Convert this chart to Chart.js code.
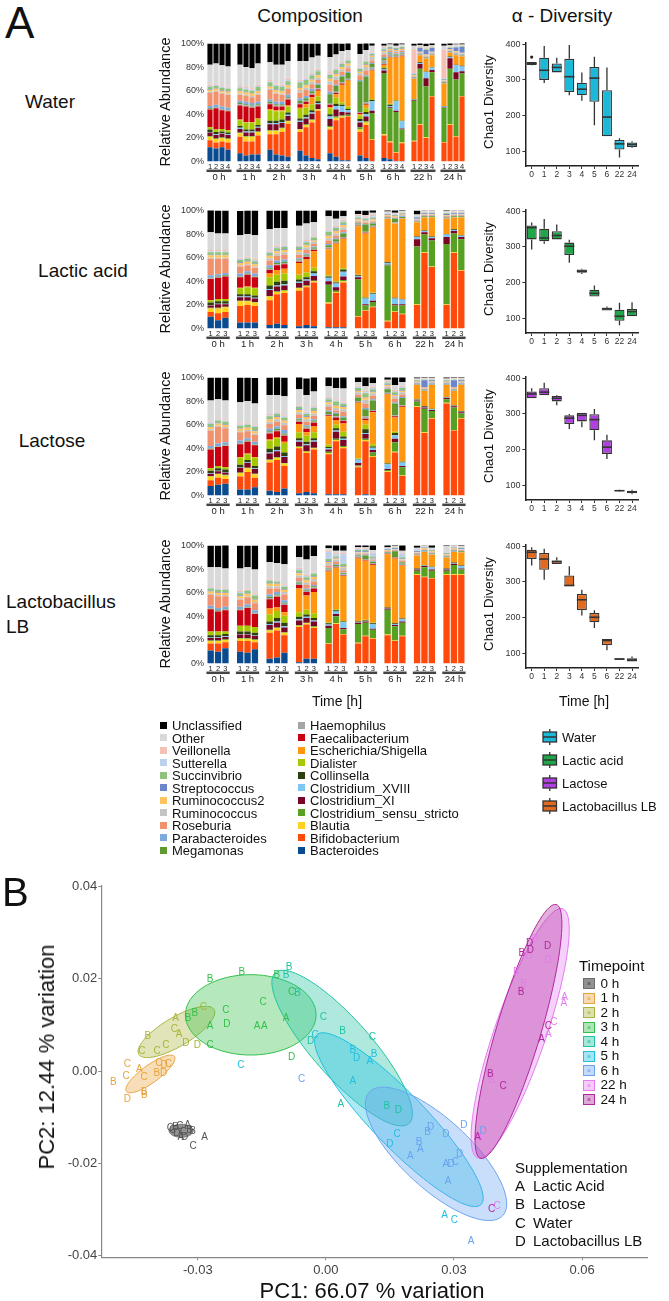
<!DOCTYPE html>
<html>
<head>
<meta charset="utf-8">
<script src="https://cdn.jsdelivr.net/npm/chart.js@4.4.1/dist/chart.umd.min.js"></script>
<style>
body { margin:0; width:669px; height:1301px; position:relative; background:#fff; overflow:hidden;
       font-family:"Liberation Sans", Arial, sans-serif; color:#111; }
canvas { position:absolute; }
.t { position:absolute; white-space:nowrap; line-height:1; }
.c { transform:translate(-50%,-50%); }
.l { transform:translateY(-50%); }
.v { transform:translate(-50%,-50%) rotate(-90deg); }
.sq { position:absolute; width:7px; height:7px; }
</style>
</head>
<body>

<canvas id="compWater" width="320" height="157" style="left:150px;top:35px"></canvas>
<canvas id="compLactic" width="320" height="157" style="left:150px;top:201.5px"></canvas>
<canvas id="compLactose" width="320" height="157" style="left:150px;top:369px"></canvas>
<canvas id="compLb" width="320" height="157" style="left:150px;top:537px"></canvas>

<canvas id="boxWater" width="199" height="147" style="left:470px;top:35px"></canvas>
<canvas id="boxLactic" width="199" height="147" style="left:470px;top:202px"></canvas>
<canvas id="boxLactose" width="199" height="147" style="left:470px;top:369px"></canvas>
<canvas id="boxLb" width="199" height="147" style="left:470px;top:537px"></canvas>

<canvas id="pca" width="669" height="404" style="left:0;top:876px"></canvas>

<!-- panel A text -->
<div class="t l" style="left:5px;top:23px;font-size:44px">A</div>
<div class="t c" style="left:310px;top:15px;font-size:19px">Composition</div>
<div class="t c" style="left:562px;top:15px;font-size:19px">α - Diversity</div>

<div class="t c" style="left:50px;top:101px;font-size:19px">Water</div>
<div class="t c" style="left:83px;top:270px;font-size:19px">Lactic acid</div>
<div class="t c" style="left:52px;top:440px;font-size:19px">Lactose</div>
<div class="t l" style="left:6px;top:601px;font-size:19px">Lactobacillus</div>
<div class="t l" style="left:6px;top:626px;font-size:19px">LB</div>

<div class="t v" style="left:165px;top:102px;font-size:14.5px">Relative Abundance</div>
<div class="t v" style="left:165px;top:268.5px;font-size:14.5px">Relative Abundance</div>
<div class="t v" style="left:165px;top:436px;font-size:14.5px">Relative Abundance</div>
<div class="t v" style="left:165px;top:604px;font-size:14.5px">Relative Abundance</div>

<div class="t v" style="left:489px;top:102px;font-size:13.3px">Chao1 Diversity</div>
<div class="t v" style="left:489px;top:269px;font-size:13.3px">Chao1 Diversity</div>
<div class="t v" style="left:489px;top:436px;font-size:13.3px">Chao1 Diversity</div>
<div class="t v" style="left:489px;top:604px;font-size:13.3px">Chao1 Diversity</div>

<div class="t c" style="left:337px;top:701px;font-size:14px">Time [h]</div>
<div class="t c" style="left:584px;top:701px;font-size:14px">Time [h]</div>

<div id="taxaLegend"></div>
<div id="boxLegend"></div>

<!-- panel B text -->
<div class="t l" style="left:2px;top:892px;font-size:40px">B</div>
<div class="t c" style="left:372px;top:1291px;font-size:22px">PC1: 66.07 % variation</div>
<div class="t v" style="left:47px;top:1057px;font-size:22px">PC2: 12.44 % variation</div>
<div class="t l" style="left:579px;top:965px;font-size:15px">Timepoint</div>
<div class="t l" style="left:515px;top:1167px;font-size:15px">Supplementation</div>
<div id="tpLegend"></div>
<div id="supLegend"></div>

<script>
Chart.defaults.font.family = '"Liberation Sans", Arial, sans-serif'
Chart.defaults.color = '#333'
Chart.defaults.animation = false

// ---------- composition data ----------
const taxa = ['Bacteroides', 'Bifidobacterium', 'Blautia', 'Clostridium_sensu_stricto', 'Clostridium_XI',
    'Clostridium_XVIII', 'Collinsella', 'Dialister', 'Escherichia/Shigella', 'Faecalibacterium',
    'Haemophilus', 'Megamonas', 'Parabacteroides', 'Roseburia', 'Ruminococcus', 'Ruminococcus2',
    'Streptococcus', 'Succinvibrio', 'Sutterella', 'Veillonella', 'Other', 'Unclassified']
const taxaColors = ['#0a4a8e', '#ff4a0c', '#ffd21e', '#58a022', '#7a0526',
    '#80c6f4', '#2e3f10', '#a6c800', '#ff9810', '#c8000f',
    '#a6a6a6', '#5e9a30', '#7ea9dc', '#f0926e', '#c4c4c4', '#ffc45e',
    '#6c86cc', '#8fc27a', '#bdd0ec', '#f4c2b4', '#d9d9d9', '#000000']
const timeGroups = ['0 h', '1 h', '2 h', '3 h', '4 h', '5 h', '6 h', '22 h', '24 h']
const waterGroupSizes = [4, 4, 4, 4, 4, 3, 4, 4, 4]
const tripleGroupSizes = [3, 3, 3, 3, 3, 3, 3, 3, 3]
const pctTicks = [0, 20, 40, 60, 80, 100]

// each bar: values in the order of `taxa` (percent)
const waterBars = [
    // 0 h
    [12,6,3,0.5,3,0.5,2,2,0,15,0.5,0.5,2,11,1,1.5,0.5,2,1,1,17,18],
    [11,5,3,0.5,3,0.5,2,2,0,18,0.5,0.5,2,11,1,1.5,0.5,2,1,1,17,17],
    [12,5,3,0.5,3,0.5,1.5,2,0,16,0.5,0.5,2,11,1,1.5,0.5,2,1,1,17,18.5],
    [10,6,3,0.5,3,0.5,1.5,2,0,16,0.5,0.5,2,11,1,1.5,0.5,2,1,1,17,19.5],
    // 1 h
    [7,14,3,0.5,3,1,1.5,5,0.5,12,1,1,2,5,1,2,0.5,2,1,1,18,18],
    [5,12,4,0.5,3,1,1.5,6,0.5,13,1,1,2,5,1,2,0.5,2,1,1,17,20],
    [6,11,4,0.5,3,1,1.5,6,0.5,12,1,1,2,5,1,2,0.5,2,1,1,17,21],
    [6,16,3,0.5,3,1,1.5,5,0.5,10,1,1,2,6,1,2,0.5,3,1,1,18,17],
    // 2 h
    [10,13,3,0.5,5,1,2,9,1,4,1,1,2,8,1,2,0.5,3,1,1,15,16],
    [6,17,3,0.5,5,1,2,8,1,3,1,1,2,7,1,2,0.5,3,1,1,16,18],
    [5,20,3,0.5,4,1,2,7,1,3,1,1,2,6,1,2,0.5,3,1,1,17,18],
    [4,28,2,0.5,4,1,2,5,1,5,1,1,2,5,1,2,0.5,3,1,1,15,15],
    // 3 h
    [9,16,2,0.5,6,1,2,8,1,3,1,2,2,5,2,2,0.5,4,1,1,16,15],
    [5,24,2,0.5,5,1,2,6,3,2,1,2,2,5,2,2,0.5,4,1,1,14,15],
    [3,30,2,0.5,5,1,2,5,6,2,1,2,2,4,2,2,0.5,3,1,1,13,12],
    [2,41,1,0.5,4,1,1.5,4,5,1,1,3,1,3,2,2,0.5,3,1,1,11,10.5],
    // 4 h
    [7,20,2,1,6,2,2,5,1,2,1,8,2,6,3,2,0.5,3,1,2,12,11.5],
    [4,31,2,1,6,3,2,5,3,1,1,5,1,4,3,2,0.5,3,1,1,11,10],
    [1,36,1,1,3,5,1,2,15,1,1,5,1,3,2,2,0.5,2,1,1,9,6.5],
    [1,37,0.5,1,2,2,1,2,22,0.5,1,5,1,3,2,2,0.5,2,1,1,7,6],
    // 5 h
    [5,20,2,2,4,1,2,3,1,1,1,26,1,4,2,1,0.5,2,1,1,10.5,9],
    [3,28,2,1,4,2,2,3,3,1,1,22,1,4,3,2,0.5,2,1,1,8,6],
    [0.5,18,0.5,22,2,8,1,1,24,0.5,2,3,1,2,3,1,0.5,1,1,1,5,3],
    // 6 h
    [3,19,1,52,2,1,1,1,2,0.5,3,2,1,2,2,1,0.5,1,1,1,1,2],
    [2,14,1,28,1,1,1,1,39,0.5,2,1,1,1,1,1,0.5,1,0.5,0.5,1,2],
    [0.5,7,0.5,34,1,8,0.5,0.5,36,0.5,1,1,1,1,1,1,0.5,1,0.5,0.5,1,3],
    [0.5,15,0.5,11,1,6,0.5,0.5,54,0.5,1,1,1,1,1,1,0.5,1,0.5,0.5,1,2],
    // 22 h
    [0,17,0.5,34,0.5,0.5,0.5,0,17,0,0.5,0.5,0.5,0.5,0.5,0.5,0.5,0.5,1,20,3,2],
    [0,31,0.5,47,4,1,0.5,0,6,0,0.5,0.5,0.5,0.5,0.5,0.5,3,0.5,0.5,0.5,1,2],
    [0,20,0.5,43,7,5,0.5,0,11,0,0.5,0.5,0.5,0.5,1,0.5,4,0.5,0.5,1,1,2.5],
    [0,55,0.5,20,2,2,0.5,0,10,0,0.5,0.5,0.5,0.5,0.5,0.5,3,0.5,0.5,0.5,1,2],
    // 24 h
    [0,16,0.5,29,0.5,0.5,0.5,0,19,0,0.5,0.5,0.5,0.5,0.5,0.5,0.5,0.5,0.5,24,3.5,2],
    [0,31,0.5,47,9,1,0.5,0,3,0,0.5,0.5,0.5,0.5,0.5,0.5,1,0.5,0.5,0.5,1,2],
    [0,21,0.5,48,6,6,0.5,0,8,0,0.5,0.5,0.5,0.5,1,0.5,3,0.5,0.5,0.5,1,1],
    [0,55,0.5,19,2,4,0.5,0,8,0,0.5,0.5,0.5,0.5,0.5,0.5,5,0.5,0.5,0.5,0.5,1.5]
]

const lacticBars = [
    // 0 h
    [10,4,3,0.5,2,0.5,2,2,0,18,0.5,0.5,2,14,1,2,0.5,2,1,1,15,19],
    [7,6,4,0.5,3,0.5,2,2,0,18,0.5,0.5,2,13,1,2,0.5,2,1,1,14,19.5],
    [9,5,4,0.5,2,0.5,2,2,0,19,0.5,0.5,2,12,1,2,0.5,2,1,1,14,19.5],
    // 1 h
    [5,14,4,0.5,3,0.5,2,5,0.5,9,0.5,0.5,2,6,1,2,0.5,2,1,1,19,20.5],
    [5,15,3,0.5,3,0.5,2,6,0.5,10,0.5,0.5,2,5,1,2,0.5,2,1,1,19,20],
    [5,14,3,0.5,3,0.5,2,6,0.5,9,0.5,0.5,2,5,1,2,0.5,2,1,1,20,21],
    // 2 h
    [3,21,3,0.5,5,1,3,7,3,3,1,1,2,4,2,2,0.5,2,1,1,18,16],
    [4,25,2,0.5,4,1,3,6,4,4,1,1,2,4,2,2,0.5,2,1,1,15,15],
    [3,27,2,0.5,4,1,3,6,4,4,1,1,2,4,2,2,0.5,2,1,1,14,15],
    // 3 h
    [2,30,2,0.5,4,1,2,4,10,1,1,1,1,3,2,2,0.5,2,1,1,16,13],
    [3,32,1,0.5,4,1,2,4,11,2,1,1,1,3,2,2,0.5,2,1,1,14,11],
    [2,37,1,0.5,4,2,2,3,14,1,1,1,1,2,2,1,0.5,2,1,1,11,10],
    // 4 h
    [1,20,1,15,3,3,1,1,22,0.5,1,2,1,3,2,2,0.5,3,1,1,11,6],
    [1,29,1,1,3,3,1,1,32,0.5,1,2,1,2,2,2,0.5,2,1,1,6,7],
    [1,38,1,1,3,4,2,1,25,0.5,1,3,1,2,2,2,0.5,2,1,1,3,5],
    // 5 h
    [0,10,0.5,31,2,1,0.5,0.5,41,0.5,1,1,0.5,1,1,1,0.5,1,1,1,1,3],
    [0,15,0.5,4,1,5,0.5,0.5,54,0.5,1,6,0.5,1,1,1,0.5,1,1,1,1,4],
    [0,18,0.5,4,1,6,0.5,0.5,55,0.5,1,2,0.5,1,1,1,0.5,1,1,1,2,3],
    // 6 h
    [0,6,0.5,47,0.5,1.5,0.5,0,37,0,0.5,0.5,0.5,0.5,0.5,0.5,0.5,0.5,0.5,0.5,1,2],
    [0,14,0.5,5,1,5,0.5,0,63,0,1,3,0.5,0.5,0.5,0.5,0.5,0.5,0.5,0.5,1,3],
    [0,12,0.5,7,1,4,0.5,0,68,0,0.5,1,0.5,0.5,0.5,0.5,0.5,0.5,0.5,0.5,1,2],
    // 22 h
    [0,20,0.5,49,6,2,0.5,0,12,0,0.5,0.5,0.5,0.5,0.5,0.5,1,0.5,0.5,0.5,1,3.5],
    [0,64,0.5,15,2,1,0.5,0,11,0,0.5,0.5,0.5,0.5,0.5,0.5,0.5,0.5,0.5,0.5,1,1.5],
    [0,52,0.5,22,2,1,0.5,0,16,0,0.5,0.5,0.5,0.5,0.5,0.5,0.5,0.5,0.5,0.5,1,1.5],
    // 24 h
    [0,20,0.5,51,6,2,0.5,0,13,0,0.5,0.5,0.5,0.5,0.5,0.5,1,0.5,0.5,0.5,1,2],
    [0,64,0.5,16,2,1,0.5,0,10,0,0.5,0.5,0.5,0.5,0.5,0.5,0.5,0.5,0.5,0.5,1,1.5],
    [0,49,0.5,26,2,1,0.5,0,15,0,0.5,0.5,0.5,0.5,0.5,0.5,0.5,0.5,0.5,0.5,1,1.5]
]

const lactoseBars = [
    // 0 h
    [8,5,3,0.5,2,0.5,2,2,0,16,0.5,0.5,2,13,1,2,0.5,2,1,1,18,19.5],
    [9,6,3,0.5,2,0.5,2,2,0,16,0.5,0.5,2,14,1,2,0.5,2,1,1,16,18.5],
    [10,4,3,0.5,2,0.5,2,2,0,18,0.5,0.5,2,12,1,2,0.5,2,1,1,16,19.5],
    // 1 h
    [5,11,3,0.5,4,0.5,2,6,0.5,11,0.5,0.5,2,7,1,2,0.5,2,1,1,18,21],
    [5,15,3,0.5,4,0.5,2,5,0.5,10,0.5,0.5,2,6,1,2,0.5,2,1,1,18,20],
    [7,8,3,0.5,4,0.5,2,7,0.5,10,0.5,0.5,2,6,1,2,0.5,3,1,1,18,21.5],
    // 2 h
    [4,24,2,0.5,5,1,3,7,1,5,1,1,2,4,2,2,0.5,2,1,1,16,15],
    [3,27,2,0.5,5,1,3,7,1,5,1,1,2,4,2,2,0.5,2,1,1,14,16],
    [6,19,2,0.5,5,1,3,8,1,5,1,1,3,4,2,2,0.5,2,1,1,16,16],
    // 3 h
    [2,38,1,0.5,4,1,2,5,7,2,1,1,1,3,2,2,0.5,2,1,1,13,11],
    [3,33,1,0.5,5,1,2,5,3,3,1,1,1,3,2,2,0.5,2,1,1,14,14],
    [2,37,1,0.5,5,1,2,5,5,3,1,1,1,3,2,2,0.5,2,1,1,12,13],
    // 4 h
    [1,34,1,1,2,1,1,2,24,1,1,2,1,3,2,2,0.5,2,1,1,9,8],
    [1,45,1,1,6,1,2,3,4,2,1,2,1,2,2,2,0.5,3,1,1,9.5,9],
    [1,39,1,1,5,1,2,4,7,2,1,2,1,4,2,2,0.5,2,1,1,11,10],
    // 5 h
    [0,24,0.5,1,2,3,0.5,0.5,47,0.5,1,3,0.5,2,2,1,0.5,2,1,1,3,5],
    [1,45,1,1,4,1,3,4,4,1,2,6,1,4,3,2,0.5,3,1,1,4,8],
    [0.5,32,1,3,2,2,1,2,27,1,1,8,1,3,2,1,0.5,2,1,1,3,6],
    // 6 h
    [0,20,0.5,1,1,4,0.5,0.5,58,0.5,1,3,0.5,1,1,1,0.5,1,1,1,1,3],
    [0.5,36,0.5,8,3,3,2,1,12,1,1,10,1,3,2,1,0.5,2,1,1,4,8],
    [0.5,16,0.5,7,1,3,0.5,0.5,46,0.5,1,6,1,2,2,1,0.5,2,1,1,3,5],
    // 22 h
    [0,75,0.5,4,1,0.5,0.5,0,12,0,0.5,0.5,0.5,0.5,0.5,0.5,0.5,0.5,0.5,0.5,0.5,1.5],
    [0,53,0.5,20,1,0.5,0.5,0,13,0,0.5,0.5,0.5,0.5,0.5,0.5,6,0.5,0.5,0.5,0.5,1.5],
    [0,65,0.5,6,1,0.5,0.5,0,20,0,0.5,0.5,0.5,0.5,0.5,0.5,1,0.5,0.5,0.5,0.5,1.5],
    // 24 h
    [0,78,0.5,3,1,0.5,0.5,0,10,0,0.5,0.5,0.5,0.5,0.5,0.5,0.5,0.5,0.5,0.5,0.5,1.5],
    [0,55,0.5,19,1,0.5,0.5,0,12,0,0.5,0.5,0.5,0.5,0.5,0.5,6,0.5,0.5,0.5,0.5,1.5],
    [0,65,0.5,4,1,0.5,0.5,0,22,0,0.5,0.5,0.5,0.5,0.5,0.5,1,0.5,0.5,0.5,0.5,1.5]
]

const lbBars = [
    // 0 h
    [11,6,2,0.5,2,0.5,2,3,0,19,0.5,0.5,2,9,1,2,0.5,2,1,1,16,18.5],
    [10,7,2,0.5,2,0.5,2,3,0,17,0.5,0.5,2,10,1,2,0.5,2,1,1,17,18.5],
    [13,5,2,0.5,2,0.5,2,2,0,18,0.5,0.5,2,9,1,2,0.5,2,1,1,16,20],
    // 1 h
    [10,9,2,0.5,3,0.5,2,5,0,13,0.5,0.5,2,6,1,2,0.5,2,1,1,19,19.5],
    [9,10,2,0.5,3,0.5,2,5,0,15,0.5,0.5,2,6,1,2,0.5,2,1,1,18,18.5],
    [12,6,2,0.5,3,0.5,2,5,0,11,0.5,0.5,2,6,1,2,0.5,3,1,1,20,20.5],
    // 2 h
    [4,22,2,0.5,4,1,2,6,5,8,1,1,2,5,2,2,0.5,2,1,1,14,14],
    [5,23,2,0.5,4,1,3,6,3,9,1,1,2,3,2,2,0.5,1,1,1,14,15],
    [9,15,2,0.5,4,1,3,6,3,6,1,1,2,5,2,2,0.5,2,1,1,17,16],
    // 3 h
    [1,30,1,0.5,4,1,2,4,20,3,1,1,1,3,2,2,0.5,2,1,1,9,10],
    [4,29,1,0.5,4,1,2,4,12,3,1,1,1,3,2,2,0.5,2,1,1,13,13],
    [4,26,1,0.5,4,1,2,4,18,3,1,1,1,3,2,2,0.5,2,1,1,13,10],
    // 4 h
    [0.5,16,0.5,13,2,1,1,1,43,0.5,1,1,0.5,2,2,1,0.5,2,6,1,2,3],
    [0.5,33,0.5,6,2,2,1,1,35,0.5,1,1,0.5,2,2,1,0.5,1,2,1,2,6],
    [0.5,24,0.5,4,1,5,0.5,0.5,38,0.5,1,1,0.5,2,2,1,0.5,2,8,1,2,5],
    // 5 h
    [0,17,0.5,16,1,0.5,0.5,0.5,53,0.5,1,1,0.5,1,1,0.5,0.5,1,1,0.5,1,2],
    [0,23,0.5,11,1,0.5,0.5,0.5,50,0.5,1,3,0.5,1,1,0.5,0.5,1,1,0.5,1,3],
    [0,21,0.5,7,1,4,0.5,0.5,49,0.5,1,1,0.5,1,1,0.5,0.5,1,3,0.5,2,5],
    // 6 h
    [0,24,0.5,21,1,0.5,0.5,0,45,0.5,0.5,0.5,0.5,0.5,0.5,0.5,0.5,0.5,0.5,0.5,0.5,2],
    [0,19,0.5,12,1,1,0.5,0,55,0.5,0.5,5,0.5,0.5,0.5,0.5,0.5,0.5,0.5,0.5,0.5,2],
    [0,23,0.5,11,1,2,0.5,0,45,0.5,1,1,0.5,1,1,0.5,0.5,1,3,0.5,2,5],
    // 22 h
    [0,75,0.5,3,1,0.5,0.5,0,11,0,0.5,0.5,0.5,0.5,0.5,0.5,0.5,0.5,1,0.5,1,2],
    [0,73,0.5,8,1,0.5,0.5,0,11,0,0.5,0.5,0.5,0.5,0.5,0.5,0.5,0.5,0.5,0.5,0.5,1],
    [0,72,0.5,6,1,2,0.5,0,10,0,0.5,0.5,0.5,0.5,0.5,0.5,0.5,0.5,0.5,0.5,1,2.5],
    // 24 h
    [0,75,0.5,3,1,0.5,0.5,0,9,0,0.5,0.5,0.5,0.5,0.5,0.5,0.5,0.5,0.5,0.5,5,1.5],
    [0,75,0.5,8,1,0.5,0.5,0,9,0,0.5,0.5,0.5,0.5,0.5,0.5,0.5,0.5,0.5,0.5,0.5,1],
    [0,75,0.5,4,1,2,0.5,0,11,0,0.5,0.5,0.5,0.5,0.5,0.5,0.5,0.5,0.5,0.5,0.5,2.5]
]

// ---------- alpha diversity data: [min, q1, median, q3, max] ----------
const chaoTimes = ['0', '1', '2', '3', '4', '5', '6', '22', '24']
const chaoTicks = [100, 200, 300, 400]
const waterChao = [[341,342,346,350,350],[291,300,327,362,395],[321,321,335,346,362],[257,266,309,359,398],
    [242,257,274,292,321],[173,239,305,336,365],[142,142,196,271,335],[83,105,121,132,137],[110,112,119,125,128]]
const waterChaoOutliers = [364, null, null, null, null, null, null, null, null]
const lacticChao = [[293,321,354,360,368],[309,316,325,351,378],[321,321,332,344,363],[256,277,302,312,320],
    [224,228,232,237,239],[161,161,170,180,192],[122,122,127,130,133],[81,93,106,124,144],[106,106,119,126,145]]
const lactoseChao = [[344,344,356,363,372],[352,352,361,372,387],[324,335,344,350,352],[258,272,288,296,300],
    [263,279,296,303,303],[226,254,284,299,314],[174,188,207,226,242],[83,84,85,86,88],[75,78,81,85,88]]
const lbChao = [[346,364,383,390,397],[306,334,364,381,393],[350,350,357,360,369],[288,288,290,318,344],
    [206,221,250,266,278],[171,187,201,213,221],[109,123,136,140,140],[82,82,84,86,86],[77,77,81,86,91]]
const supplements = ['Water', 'Lactic acid', 'Lactose', 'Lactobacillus LB']
const supplementColors = ['#1cb8d8', '#1fa64a', '#b040e0', '#e06a20']

// ---------- PCA data ----------
const tpNames = ['0 h', '1 h', '2 h', '3 h', '4 h', '5 h', '6 h', '22 h', '24 h']
const tpColors = ['#6e6e6e', '#e8a33d', '#a9b53a', '#34bf4c', '#22c3a2', '#1fbfe0', '#6aa3f0', '#e47cf0', '#b0289a']
const pcXTicks = [-0.03, 0, 0.03, 0.06]
const pcYTicks = [-0.04, -0.02, 0, 0.02, 0.04]
const supLetters = ['A', 'B', 'C', 'D']
const supNames = ['Lactic Acid', 'Lactose', 'Water', 'Lactobacillus LB']

const pts0h = [[-0.0364,-0.0123,'C'],[-0.0352,-0.0122,'B'],[-0.0342,-0.012,'C'],[-0.0324,-0.0116,'A'],[-0.0319,-0.0128,'B'],
    [-0.0334,-0.0132,'C'],[-0.034,-0.0143,'A'],[-0.0331,-0.0142,'D'],[-0.0349,-0.0134,'D'],[-0.0359,-0.0128,'C'],
    [-0.0312,-0.0129,'B'],[-0.0284,-0.0143,'A'],[-0.0311,-0.0163,'C']]
const pts1h = [[-0.0498,-0.0023,'B'],[-0.0465,-0.006,'D'],[-0.0465,0.0015,'C'],[-0.0468,-0.0012,'C'],[-0.0437,0.0004,'A'],
    [-0.0426,-0.0014,'C'],[-0.0426,-0.0046,'B'],[-0.0425,-0.0053,'B'],[-0.0391,0.0018,'C'],[-0.0396,-0.0004,'B'],
    [-0.038,-0.0004,'D'],[-0.0369,0.0014,'C'],[-0.0379,0.0013,'D']]
const pts2h = [[-0.0431,0.0043,'C'],[-0.0417,0.0075,'B'],[-0.0395,0.0044,'C'],[-0.0375,0.0057,'C'],[-0.0352,0.0115,'A'],
    [-0.0355,0.0091,'C'],[-0.0344,0.008,'A'],[-0.0328,0.006,'D'],[-0.0301,0.0057,'D'],[-0.0287,0.0138,'C']]
const pts3h = [[-0.0271,0.0199,'B'],[-0.0197,0.0215,'B'],[-0.0115,0.0208,'B'],[-0.0234,0.0131,'C'],[-0.0147,0.0149,'C'],
    [-0.0232,0.0102,'D'],[-0.0161,0.0098,'A'],[-0.0144,0.0097,'A'],[-0.0093,0.0115,'A'],[-0.0271,0.0056,'C'],
    [-0.0271,0.0098,'A'],[-0.0323,0.0114,'B'],[-0.0307,0.0125,'B'],[-0.008,0.0031,'D'],[-0.008,0.0171,'C']]
const pts4h = [[-0.0086,0.0224,'B'],[-0.0093,0.0207,'B'],[-0.0066,0.0169,'B'],[-0.0006,0.0116,'C'],[0.0109,0.0073,'C'],
    [0.0039,0.0087,'B'],[-0.0036,0.0065,'D'],[0.0035,-0.0072,'A'],[0.0143,-0.0075,'B'],[0.017,-0.0084,'D']]
const pts5h = [[-0.0199,0.0012,'C'],[-0.0025,0.0077,'C'],[0.0063,0.0045,'B'],[0.0072,0.0029,'D'],[0.0103,0.0022,'A'],
    [0.0113,0.0037,'B'],[0.0063,-0.0022,'A'],[0.0167,-0.0136,'C'],[0.015,-0.0159,'D'],[0.0278,-0.0313,'A'],[0.0301,-0.0323,'C']]
const pts6h = [[-0.0057,-0.0017,'C'],[0.0238,-0.0132,'B'],[0.0245,-0.0121,'D'],[0.0281,-0.0136,'D'],[0.0218,-0.0153,'B'],
    [0.0221,-0.0169,'A'],[0.0198,-0.0184,'A'],[0.0303,-0.0197,'C'],[0.0281,-0.0202,'A'],[0.0293,-0.0202,'D'],
    [0.0313,-0.0179,'D'],[0.0323,-0.0116,'D'],[0.0368,-0.0131,'D'],[0.0286,-0.0238,'A'],[0.034,-0.0369,'A']]
const pts22h = [[0.0489,0.0285,'D'],[0.0476,0.0248,'D'],[0.0519,0.0241,'D'],[0.0446,0.0214,'B'],[0.0463,0.0189,'B'],
    [0.0559,0.0161,'A'],[0.0557,0.0148,'A'],[0.0534,0.0105,'C'],[0.0388,-0.0019,'B'],[0.0401,-0.0292,'C'],
    [0.0521,0.0081,'A'],[0.036,-0.0145,'A']]
const pts24h = [[0.0477,0.0278,'D'],[0.0519,0.027,'D'],[0.0459,0.0255,'B'],[0.0479,0.0262,'D'],[0.0457,0.0171,'B'],
    [0.0521,0.0098,'C'],[0.0505,0.007,'A'],[0.0385,-0.0007,'B'],[0.0415,-0.0032,'C'],[0.0355,-0.0143,'A'],[0.0388,-0.03,'C']]
const tpPoints = [pts0h, pts1h, pts2h, pts3h, pts4h, pts5h, pts6h, pts22h, pts24h]

// confidence ellipses: centre, major and minor half-axis vectors (data units)
const ellipseCentres = [[-0.0339,-0.0129],[-0.0411,-0.0006],[-0.035,0.0085],[-0.0176,0.0122],[0.0038,0.005],
    [0.0171,-0.0105],[0.0258,-0.0179],[0.0455,0.0082],[0.0451,0.0086]]
const ellipseMajor = [[0.0028,0],[0.0055,0.0039],[0.0086,0.0051],[0.0153,0],[0.0152,-0.0166],
    [0.0189,-0.0186],[0.0149,-0.0139],[0.0098,0.027],[0.0088,0.0275]]
const ellipseMinor = [[0,0.0014],[0.0017,-0.0012],[0.0026,-0.0022],[0,0.0087],[0.0063,0.0029],
    [0.0057,0.0029],[0.0072,0.0039],[0.006,-0.0011],[0.0051,-0.001]]


function rgba(hex, a) {
    const n = parseInt(hex.slice(1), 16)
    return 'rgba(' + (n >> 16) + ',' + ((n >> 8) & 255) + ',' + (n & 255) + ',' + a + ')'
}

// start: composition charts
const groupLabels = {
    id: 'groupLabels',
    afterDraw(chart, args, opts) {
        const { ctx, chartArea, scales: { x } } = chart
        const w = x.getPixelForValue(1) - x.getPixelForValue(0)
        ctx.save()
        opts.spans.forEach(function (sp, i) {
            const l = x.getPixelForValue(sp[0]) - w * 0.58
            const r = x.getPixelForValue(sp[1]) + w * 0.58
            ctx.strokeStyle = '#444'
            ctx.lineWidth = 2.5
            ctx.beginPath()
            ctx.moveTo(l, chartArea.bottom + 9.3)
            ctx.lineTo(r, chartArea.bottom + 9.3)
            ctx.stroke()
            ctx.fillStyle = '#222'
            ctx.font = '9.5px "Liberation Sans", Arial, sans-serif'
            ctx.textAlign = 'center'
            ctx.textBaseline = 'middle'
            ctx.fillText(timeGroups[i], (l + r) / 2, chartArea.bottom + 15.6)
        })
        ctx.restore()
    }
}

function makeComposition(id, bars, sizes) {
    const labels = []
    const spans = []
    const index = []
    let b = 0
    sizes.forEach(function (n, g) {
        const start = labels.length
        for (let i = 1; i <= n; i++) {
            labels.push(String(i))
            index.push(b++)
        }
        spans.push([start, labels.length - 1])
        if (g < sizes.length - 1) {
            labels.push('')
            index.push(-1)
        }
    })
    const datasets = taxa.map(function (name, t) {
        return {
            label: name,
            data: index.map(k => k < 0 ? null : bars[k][t]),
            backgroundColor: taxaColors[t],
            borderWidth: 0,
            barPercentage: 0.86,
            categoryPercentage: 1,
            clip: 0
        }
    })
    new Chart(document.getElementById(id), {
        type: 'bar',
        data: { labels: labels, datasets: datasets },
        options: {
            responsive: false,
            events: [],
            layout: { autoPadding: false, padding: { top: 8, right: 5, left: 0, bottom: 0 } },
            plugins: { legend: { display: false }, tooltip: { enabled: false }, groupLabels: { spans: spans } },
            scales: {
                x: {
                    stacked: true,
                    grid: { display: false, drawTicks: false },
                    border: { display: false },
                    ticks: { autoSkip: false, maxRotation: 0, padding: 1, color: '#222', font: { size: 7.5 } },
                    afterFit(s) { s.height = 30.5 }
                },
                y: {
                    stacked: true, min: 0, max: 100,
                    grid: { display: false, drawTicks: false },
                    border: { display: false },
                    afterBuildTicks(s) { s.ticks = pctTicks.map(v => ({ value: v })) },
                    ticks: { padding: 3, color: '#333', font: { size: 9 }, callback: v => v + '%' },
                    afterFit(s) { s.width = 57 }
                }
            }
        },
        plugins: [groupLabels]
    })
}

makeComposition('compWater', waterBars, waterGroupSizes)
makeComposition('compLactic', lacticBars, tripleGroupSizes)
makeComposition('compLactose', lactoseBars, tripleGroupSizes)
makeComposition('compLb', lbBars, tripleGroupSizes)
// end: composition charts

// start: box plots
const boxWhiskers = {
    id: 'boxWhiskers',
    afterDatasetsDraw(chart, args, opts) {
        const { ctx, scales: { y } } = chart
        const meta = chart.getDatasetMeta(0)
        ctx.save()
        ctx.strokeStyle = '#333'
        opts.stats.forEach(function (s, i) {
            const bar = meta.data[i]
            const half = bar.width / 2
            ctx.lineWidth = 1.3
            ctx.beginPath()
            ctx.moveTo(bar.x, y.getPixelForValue(s[0]))
            ctx.lineTo(bar.x, y.getPixelForValue(s[1]))
            ctx.moveTo(bar.x, y.getPixelForValue(s[3]))
            ctx.lineTo(bar.x, y.getPixelForValue(s[4]))
            ctx.stroke()
            ctx.lineWidth = 1.6
            ctx.beginPath()
            ctx.moveTo(bar.x - half, y.getPixelForValue(s[2]))
            ctx.lineTo(bar.x + half, y.getPixelForValue(s[2]))
            ctx.stroke()
        })
        ctx.restore()
    }
}

function makeBox(id, stats, color, outliers) {
    const datasets = [{
        data: stats.map(s => [s[1], s[3]]),
        backgroundColor: color,
        borderColor: '#333',
        borderWidth: 1.3,
        borderSkipped: false,
        barPercentage: 0.8,
        categoryPercentage: 1
    }]
    if (outliers) {
        datasets.push({
            type: 'line', data: outliers, showLine: false,
            pointRadius: 1.6, pointBorderWidth: 0, pointBackgroundColor: '#222'
        })
    }
    new Chart(document.getElementById(id), {
        type: 'bar',
        data: { labels: chaoTimes, datasets: datasets },
        options: {
            responsive: false,
            events: [],
            layout: { autoPadding: false, padding: { top: 4, right: 30.7, left: 0, bottom: 0 } },
            plugins: { legend: { display: false }, tooltip: { enabled: false }, boxWhiskers: { stats: stats } },
            scales: {
                x: {
                    grid: { drawOnChartArea: false, offset: false, tickLength: 3, color: '#333' },
                    border: { color: '#222', width: 1.5 },
                    ticks: { autoSkip: false, maxRotation: 0, minRotation: 0, padding: 1, color: '#333', font: { size: 8.5 } },
                    afterFit(s) { s.height = 16 }
                },
                y: {
                    min: 59, max: 405,
                    grid: { drawOnChartArea: false, tickLength: 3, color: '#333' },
                    border: { color: '#222', width: 1.5 },
                    afterBuildTicks(s) { s.ticks = chaoTicks.map(v => ({ value: v })) },
                    ticks: { padding: 2, color: '#333', font: { size: 9 } },
                    afterFit(s) { s.width = 55.4 }
                }
            }
        },
        plugins: [boxWhiskers]
    })
}

makeBox('boxWater', waterChao, supplementColors[0], waterChaoOutliers)
makeBox('boxLactic', lacticChao, supplementColors[1])
makeBox('boxLactose', lactoseChao, supplementColors[2])
makeBox('boxLb', lbChao, supplementColors[3])
// end: box plots

// start: PCA
const ellipses = {
    id: 'ellipses',
    beforeDatasetsDraw(chart) {
        const { ctx, chartArea, scales: { x, y } } = chart
        ctx.save()
        ctx.beginPath()
        ctx.rect(chartArea.left, chartArea.top, chartArea.width, chartArea.height)
        ctx.clip()
        ellipseCentres.forEach(function (c, i) {
            const u = ellipseMajor[i], v = ellipseMinor[i]
            ctx.beginPath()
            for (let k = 0; k <= 96; k++) {
                const t = k / 96 * Math.PI * 2
                const px = x.getPixelForValue(c[0] + u[0] * Math.cos(t) + v[0] * Math.sin(t))
                const py = y.getPixelForValue(c[1] + u[1] * Math.cos(t) + v[1] * Math.sin(t))
                if (k === 0) ctx.moveTo(px, py)
                else ctx.lineTo(px, py)
            }
            ctx.closePath()
            ctx.fillStyle = rgba(tpColors[i], i === 0 ? 0.75 : 0.36)
            ctx.fill()
            ctx.strokeStyle = tpColors[i]
            ctx.lineWidth = 1
            ctx.stroke()
        })
        ctx.restore()
    }
}

const letters = {
    id: 'letters',
    afterDatasetsDraw(chart) {
        const ctx = chart.ctx
        ctx.save()
        ctx.font = '10px "Liberation Sans", Arial, sans-serif'
        ctx.textAlign = 'center'
        ctx.textBaseline = 'middle'
        tpPoints.forEach(function (pts, i) {
            const meta = chart.getDatasetMeta(i)
            ctx.fillStyle = i === 0 ? '#555' : tpColors[i]
            pts.forEach(function (p, j) {
                const el = meta.data[j]
                ctx.fillText(p[2], el.x, el.y)
            })
        })
        ctx.restore()
    }
}

function fmt(v) {
    return Math.abs(v) < 1e-9 ? '0.00' : v.toFixed(2)
}

new Chart(document.getElementById('pca'), {
    type: 'scatter',
    data: {
        datasets: tpPoints.map((pts, i) => ({
            label: tpNames[i],
            data: pts.map(p => ({ x: p[0], y: p[1] })),
            pointRadius: 0
        }))
    },
    options: {
        responsive: false,
        events: [],
        layout: { autoPadding: false, padding: { top: 10, right: 21.6, left: 0, bottom: 0 } },
        plugins: { legend: { display: false }, tooltip: { enabled: false } },
        scales: {
            x: {
                type: 'linear', min: -0.0526, max: 0.0753,
                grid: { drawOnChartArea: false, tickLength: 3, color: '#888' },
                border: { color: '#888', width: 1.2 },
                afterBuildTicks(s) { s.ticks = pcXTicks.map(v => ({ value: v })) },
                ticks: { padding: 2, color: '#444', font: { size: 13 }, callback: fmt },
                afterFit(s) { s.height = 22.7 }
            },
            y: {
                min: -0.0403, max: 0.0401,
                grid: { drawOnChartArea: false, tickLength: 3, color: '#888' },
                border: { color: '#888', width: 1.2 },
                afterBuildTicks(s) { s.ticks = pcYTicks.map(v => ({ value: v })) },
                ticks: { padding: 1, color: '#444', font: { size: 13 }, callback: fmt },
                afterFit(s) { s.width = 101.3 }
            }
        }
    },
    plugins: [ellipses, letters]
})
// end: PCA

// start: legends
const taxaLegend = document.getElementById('taxaLegend')
taxa.slice().reverse().forEach(function (name, i) {
    const col = i < 11 ? 0 : 1
    const row = i % 11
    const yc = 725 + row * 12.5
    const idx = taxa.length - 1 - i
    const sq = document.createElement('div')
    sq.className = 'sq'
    sq.style.left = (col ? 298 : 160) + 'px'
    sq.style.top = (yc - 3.5) + 'px'
    sq.style.background = taxaColors[idx]
    taxaLegend.appendChild(sq)
    const tx = document.createElement('div')
    tx.className = 't l'
    tx.style.left = (col ? 310 : 172) + 'px'
    tx.style.top = yc + 'px'
    tx.style.fontSize = '13px'
    tx.textContent = name
    taxaLegend.appendChild(tx)
})

const boxLegend = document.getElementById('boxLegend')
supplements.forEach(function (name, i) {
    const yc = 737 + i * 23
    const icon = document.createElement('div')
    icon.className = 't'
    icon.style.left = '541.5px'
    icon.style.top = (yc - 8) + 'px'
    icon.innerHTML = '<svg width="16" height="16" viewBox="0 0 16 16">' +
        '<line x1="7.75" y1="0" x2="7.75" y2="16" stroke="#333" stroke-width="1.3"/>' +
        '<rect x="1" y="3" width="13.5" height="10" fill="' + supplementColors[i] + '" stroke="#333" stroke-width="1.3"/>' +
        '<line x1="1" y1="8" x2="14.5" y2="8" stroke="#333" stroke-width="1.5"/></svg>'
    boxLegend.appendChild(icon)
    const tx = document.createElement('div')
    tx.className = 't l'
    tx.style.left = '562px'
    tx.style.top = yc + 'px'
    tx.style.fontSize = '13px'
    tx.textContent = name
    boxLegend.appendChild(tx)
})

const tpLegend = document.getElementById('tpLegend')
tpNames.forEach(function (name, i) {
    const yc = 983.8 + i * 14.5
    const key = document.createElement('div')
    key.className = 't'
    key.style.cssText += 'left:583px;top:' + (yc - 5.5) + 'px;width:10px;height:9px;border:1px solid ' +
        tpColors[i] + ';background:' + rgba(tpColors[i], i === 0 ? 0.75 : 0.4) + ';font-size:6px;color:' +
        (i === 0 ? '#444' : tpColors[i]) + ';text-align:center;line-height:9px'
    key.textContent = 'a'
    tpLegend.appendChild(key)
    const tx = document.createElement('div')
    tx.className = 't l'
    tx.style.cssText += 'left:600.5px;top:' + yc + 'px;font-size:13.5px'
    tx.textContent = name
    tpLegend.appendChild(tx)
})

const supLegend = document.getElementById('supLegend')
supLetters.forEach(function (letter, i) {
    const yc = 1185 + i * 18.3
    const a = document.createElement('div')
    a.className = 't l'
    a.style.cssText += 'left:515px;top:' + yc + 'px;font-size:15px'
    a.textContent = letter
    supLegend.appendChild(a)
    const tx = document.createElement('div')
    tx.className = 't l'
    tx.style.cssText += 'left:533px;top:' + yc + 'px;font-size:15px'
    tx.textContent = supNames[i]
    supLegend.appendChild(tx)
})
// end: legends
</script>
</body>
</html>
